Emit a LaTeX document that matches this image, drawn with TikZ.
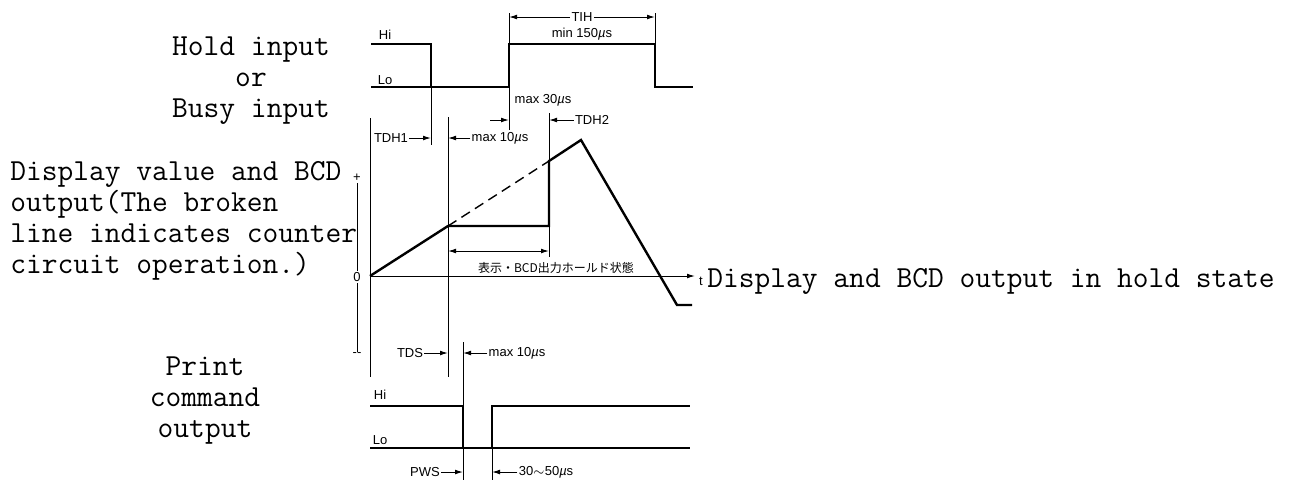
\documentclass[tikz,border=0pt]{standalone}
\usepackage{fontspec}
\newfontfamily\lblfont{Liberation Sans}
\newfontfamily\cjk{Noto Sans CJK JP}
\usetikzlibrary{arrows.meta}
\tikzstyle{signal}=[line width=1.2pt]
\tikzstyle{level}=[line width=0.8pt]
\tikzstyle{guide}=[line width=0.5pt]
\tikzstyle{dim}=[guide, -{Latex[length=4pt,width=2.4pt]}]
\tikzstyle{tag}=[font=\lblfont\fontsize{6.5}{7}\selectfont, inner sep=0.5pt]
\tikzstyle{caption}=[font=\ttfamily\fontsize{15.3}{15.5}\selectfont, inner sep=0]
\newcommand{\us}{\textit{µ}s}

\begin{document}
\begin{tikzpicture}[x=0.5pt, y=-0.5pt]
      \useasboundingbox (0,0) rectangle (1289,500);

      \coordinate (origin) at (370, 276);
      \coordinate (hfall) at (431, 87);
      \coordinate (hrise) at (509, 87);
      \coordinate (hend) at (655, 87);
      \coordinate (latch) at (448, 226);
      \coordinate (jump) at (549, 226);
      \coordinate (meet) at (549, 161);
      \coordinate (peak) at (581, 140);
      \coordinate (pfall) at (463, 448);
      \coordinate (prise) at (492, 448);

      % captions
      \node[caption, align=center] (holdcap) at (251, 81) {Hold input\\or\\Busy input};
      \node[caption, align=left, anchor=west] (valcap) at (10, 221)
        {Display value and BCD\\output(The broken\\line indicates counter\\circuit operation.)};
      \node[caption, align=center] (printcap) at (205, 401) {Print\\command\\output};
      \node[caption, anchor=west] (statecap) at (707, 281) {Display and BCD output in hold state};

      % hold / busy input
      \node[tag] (hhi) at (385, 35) {Hi};
      \node[tag] (hlo) at (385, 80) {Lo};
      \draw[level] (371, 87) -- (hfall);
      \draw[signal] (371, 44) -| (hfall) -- (hrise) -- ++(0, -43) -| (hend) -- (693, 87);

      \node[tag] (tih) at (582, 17) {TIH};
      \node[tag] (minw) at (582, 34) {min 150\us};
      \draw[guide] (hrise |- tih) ++(0, -4) -- (hrise |- 0, 44);
      \draw[guide] (hend |- tih) ++(0, -4) -- (hend |- 0, 44);
      \draw[dim] (tih) -- (tih -| hrise);
      \draw[dim] (tih) -- (tih -| hend);

      \node[tag] (max30) at (543, 100) {max 30\us};
      \node[tag] (tdh2) at (592, 120) {TDH2};
      \coordinate (tdh2in) at (490, 120);
      \draw[guide] (hrise) -- ++(0, 43);
      \draw[guide] (meet) -- (549, 113);
      \draw[guide] (jump) -- (549, 257);
      \draw[dim] (tdh2in) -- (tdh2in -| hrise);
      \draw[dim] (tdh2) -- (tdh2 -| meet);

      % display value
      \node[tag] (plus) at (357, 178) {+};
      \node[tag] (zero) at (357, 277) {0};
      \node[tag] (minus) at (357, 355) {--};
      \draw[guide] (plus) -- (zero);
      \draw[guide] (zero) -- (minus);
      \draw[guide] (370, 118) -- (370, 377);
      \draw[guide] (hfall) -- (431, 145);
      \draw[guide] (448, 117) -- (448, 377);
      \draw[dim] (origin) -- (695, 276);
      \node[tag] (tlab) at (701, 281) {t};

      \draw[signal] (origin) -- (latch) -- (jump) -- (meet) -- (peak) -- (677, 305) -- (692, 305);
      \draw[signal, dash pattern=on 5pt off 3pt, line width=0.7pt] (latch) -- (meet);

      \node[tag] (tdh1) at (391, 138) {TDH1};
      \node[tag] (max10a) at (500, 138) {max 10\us};
      \draw[dim] (tdh1) -- (tdh1 -| hfall);
      \draw[dim] (max10a) -- (max10a -| latch);

      \draw[guide, {Latex[length=4pt,width=2.4pt]}-{Latex[length=4pt,width=2.4pt]}] (448, 251) -- (549, 251);
      \node[font=\cjk\fontsize{6}{7}\selectfont, inner sep=0.5pt] (holdst) at (556, 268) {表示・BCD出力ホールド状態};

      \node[tag] (tds) at (410, 353) {TDS};
      \node[tag] (max10b) at (517, 353) {max 10\us};
      \draw[guide] (463, 342) -- (463, 406);
      \draw[dim] (tds) -- (tds -| latch);
      \draw[dim] (max10b) -- (max10b -| pfall);

      % print command output
      \node[tag] (phi) at (380, 395) {Hi};
      \node[tag] (plo) at (380, 440) {Lo};
      \draw[level] (370, 448) -- (pfall);
      \draw[level] (prise) -- (690, 448);
      \draw[signal] (370, 406) -| (pfall) -- (prise) -- (492, 406) -- (690, 406);

      \node[tag] (pws) at (425, 472) {PWS};
      \node[tag] (pwidth) at (546, 472) {30$\sim$50\us};
      \draw[guide] (pfall) -- ++(0, 32);
      \draw[guide] (prise) -- ++(0, 32);
      \draw[dim] (pws) -- (pws -| pfall);
      \draw[dim] (pwidth) -- (pwidth -| prise);
    \end{tikzpicture}
\end{document}
